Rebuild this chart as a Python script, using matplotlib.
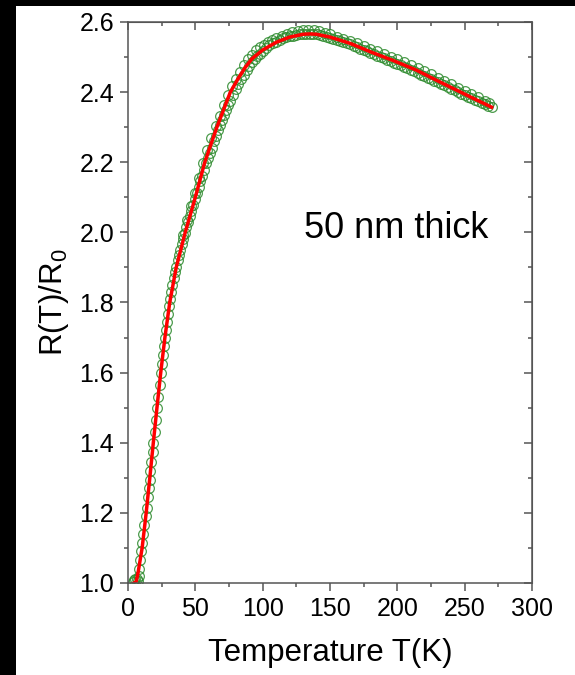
"""
R(T)/R0 de una película de 50 nm: datos (círculos) y ajuste (línea roja).
"""
import matplotlib
matplotlib.use("Agg")
import matplotlib.pyplot as plt
import matplotlib.ticker as mticker
from matplotlib.patches import Rectangle

plt.rcParams['font.family'] = ['Liberation Sans', 'DejaVu Sans']
plt.rcParams['mathtext.fontset'] = 'custom'
plt.rcParams['mathtext.rm'] = 'Liberation Sans'

temp_datos = [3.5, 4.5, 5.5, 6.5, 7.5, 8.0, 8.5, 9.2, 9.9, 10.6,
              11.4, 12.2, 13.0, 13.8, 14.6, 15.4, 16.0, 16.6, 17.4, 18.2,
              18.9, 19.7, 20.6, 21.6, 22.5, 23.4, 24.3, 25.0, 25.8, 26.6,
              27.4, 28.1, 28.9, 29.7, 30.5, 31.3, 32.1, 33.0, 33.9, 34.8,
              35.8, 36.8, 37.8, 38.8, 39.9, 41.0, 42.2, 43.4, 44.6, 45.8,
              47.0, 48.3, 49.6, 51.0, 52.4, 53.8, 55.2, 56.6, 58.0, 59.5,
              61.0, 62.5, 64.0, 65.5, 67.0, 68.5, 70.0, 71.5, 73.0, 74.5,
              76.0, 78.0, 80.0, 82.0, 84.0, 86.0, 88.0, 90.0, 92.0, 94.0,
              96.0, 98.0, 100.0, 102.5, 105.0, 107.5, 110.0, 112.5, 115.0, 117.5,
              120.0, 122.5, 125.0, 127.5, 130.0, 132.5, 135.0, 137.5, 140.0, 142.5,
              145.0, 147.5, 150.0, 152.5, 155.0, 157.5, 160.0, 162.5, 165.0, 167.5,
              170.0, 172.5, 175.0, 177.5, 180.0, 182.5, 185.0, 187.5, 190.0, 192.5,
              195.0, 197.5, 200.0, 202.5, 205.0, 207.5, 210.0, 212.5, 215.0, 217.5,
              220.0, 222.5, 225.0, 227.5, 230.0, 232.5, 235.0, 237.5, 240.0, 242.5,
              245.0, 247.5, 250.0, 252.5, 255.0, 257.5, 260.0, 262.5, 265.0, 267.5,
              270.0]
r_datos = [1.003, 1.008, 1.012, 1.010, 1.005, 1.020, 1.040, 1.065, 1.090, 1.115,
           1.140, 1.165, 1.190, 1.215, 1.245, 1.270, 1.295, 1.320, 1.345, 1.375,
           1.400, 1.430, 1.465, 1.500, 1.530, 1.565, 1.600, 1.625, 1.650, 1.675,
           1.700, 1.722, 1.745, 1.767, 1.790, 1.810, 1.830, 1.850, 1.870, 1.886,
           1.902, 1.920, 1.936, 1.951, 1.966, 1.981, 1.997, 2.014, 2.030, 2.047,
           2.062, 2.079, 2.095, 2.112, 2.129, 2.147, 2.162, 2.179, 2.197, 2.212,
           2.227, 2.242, 2.260, 2.275, 2.292, 2.307, 2.320, 2.334, 2.348, 2.362,
           2.375, 2.392, 2.408, 2.422, 2.437, 2.450, 2.462, 2.474, 2.485, 2.494,
           2.503, 2.510, 2.518, 2.526, 2.533, 2.539, 2.544, 2.549, 2.553, 2.556,
           2.559, 2.561, 2.563, 2.565, 2.566, 2.567, 2.567, 2.566, 2.565, 2.563,
           2.561, 2.558, 2.555, 2.552, 2.549, 2.546, 2.542, 2.539, 2.536, 2.532,
           2.528, 2.524, 2.520, 2.516, 2.512, 2.508, 2.504, 2.500, 2.496, 2.492,
           2.488, 2.484, 2.480, 2.476, 2.472, 2.468, 2.463, 2.459, 2.455, 2.450,
           2.446, 2.441, 2.437, 2.432, 2.428, 2.423, 2.419, 2.414, 2.410, 2.405,
           2.401, 2.396, 2.392, 2.387, 2.383, 2.378, 2.374, 2.369, 2.365, 2.361,
           2.357]

# ── datos medidos, barrido 2 (un poco por encima) ─────────────
temp_datos2 = [41, 44, 47, 50, 53, 56, 59, 62, 65, 68,
               71, 74, 77, 80, 83, 86, 89, 92, 95, 98,
               101, 104, 107, 110, 114, 118, 122, 126, 130, 134,
               138, 142, 146, 150, 155, 160, 165, 170, 175, 180,
               185, 190, 195, 200, 205, 210, 215, 220, 225, 230,
               235, 240, 245, 250, 255, 260, 265, 268]
r_datos2 = [1.992, 2.034, 2.074, 2.112, 2.155, 2.198, 2.235, 2.268, 2.302, 2.332,
            2.362, 2.392, 2.418, 2.438, 2.458, 2.476, 2.494, 2.507, 2.519, 2.528,
            2.535, 2.542, 2.548, 2.554, 2.561, 2.567, 2.571, 2.575, 2.577, 2.578,
            2.577, 2.574, 2.570, 2.565, 2.558, 2.552, 2.546, 2.539, 2.531, 2.523,
            2.516, 2.508, 2.501, 2.494, 2.486, 2.477, 2.469, 2.460, 2.451, 2.441,
            2.432, 2.423, 2.413, 2.404, 2.394, 2.385, 2.375, 2.368]

# ── ajuste (línea roja) ───────────────────────────────────────
temp_ajuste = [2.0, 6.0, 7.5, 10.5, 13.5, 16.2, 18.8, 21.5, 24.3, 27.4,
               31.0, 35.8, 42.5, 50.0, 57.0, 66.0, 76.0, 82.0, 87.0, 92.0,
               100.0, 110.0, 120.0, 130.0, 135.0, 140.0, 150.0, 165.0, 180.0, 197.0,
               214.0, 230.0, 256.0, 270.0]
r_ajuste = [0.995, 1.003, 1.03, 1.10, 1.20, 1.30, 1.40, 1.50, 1.60, 1.70,
            1.80, 1.90, 2.00, 2.10, 2.20, 2.30, 2.40, 2.44, 2.47, 2.495,
            2.52, 2.542, 2.557, 2.565, 2.566, 2.565, 2.557, 2.539, 2.515, 2.49,
            2.463, 2.432, 2.383, 2.357]

VERDE = '#2e8b2e'
ROJO = '#ff0000'
GRIS = '#555555'

fig = plt.figure(figsize=(5.75, 6.75), dpi=100, facecolor='black')
# zona blanca (deja las franjas negras de la izquierda y de arriba)
fig.add_artist(Rectangle((16 / 575, 0), 1, (675 - 6) / 675,
                         transform=fig.transFigure, facecolor='white',
                         edgecolor='none', zorder=0))

ax = fig.add_axes([128 / 575, 92 / 675, 404 / 575, 561 / 675])
for t, r in ((temp_datos, r_datos), (temp_datos2, r_datos2)):
    ax.plot(t, r, 'o', ms=7, mfc='none', mec=VERDE, mew=0.9, alpha=0.85)
ax.plot(temp_ajuste, r_ajuste, '-', color=ROJO, lw=2.5)

ax.set_xlim(0, 300)
ax.set_ylim(1.0, 2.6)
ax.xaxis.set_major_locator(mticker.MultipleLocator(50))
ax.xaxis.set_minor_locator(mticker.MultipleLocator(25))
ax.yaxis.set_major_locator(mticker.MultipleLocator(0.2))
ax.yaxis.set_minor_locator(mticker.MultipleLocator(0.1))
ax.yaxis.set_major_formatter(mticker.FormatStrFormatter('%.1f'))

for s in ax.spines.values():
    s.set_color(GRIS)
    s.set_linewidth(1.1)

ax.tick_params(which='major', direction='out', length=6, width=1.1,
               color=GRIS, labelsize=18, labelcolor='black')
ax.tick_params(which='minor', direction='out', length=3, width=1.1, color=GRIS)
ax.tick_params(axis='x', which='major', pad=4)
ax.tick_params(axis='y', which='major', pad=4)

# ticks hacia dentro arriba y a la derecha
top = ax.secondary_xaxis('top')
top.xaxis.set_major_locator(mticker.MultipleLocator(50))
top.xaxis.set_minor_locator(mticker.MultipleLocator(25))
top.tick_params(which='major', direction='in', length=6, width=1.1,
                color=GRIS, labeltop=False)
top.tick_params(which='minor', direction='in', length=3, width=1.1, color=GRIS)
top.spines['top'].set_color(GRIS)

der = ax.secondary_yaxis('right')
der.yaxis.set_major_locator(mticker.MultipleLocator(0.2))
der.yaxis.set_minor_locator(mticker.MultipleLocator(0.1))
der.tick_params(which='major', direction='in', length=6, width=1.1,
                color=GRIS, labelright=False)
der.tick_params(which='minor', direction='in', length=3, width=1.1, color=GRIS)
der.spines['right'].set_color(GRIS)

ax.set_xlabel('Temperature T(K)', fontsize=22.5, labelpad=12)
ax.set_ylabel(r'R(T)/R$_\mathregular{0}$', fontsize=22.5, labelpad=6)

ax.text(131, 2.012, '50 nm thick', fontsize=26, ha='left', va='center')

fig.savefig('out.png', dpi=100, facecolor=fig.get_facecolor())
